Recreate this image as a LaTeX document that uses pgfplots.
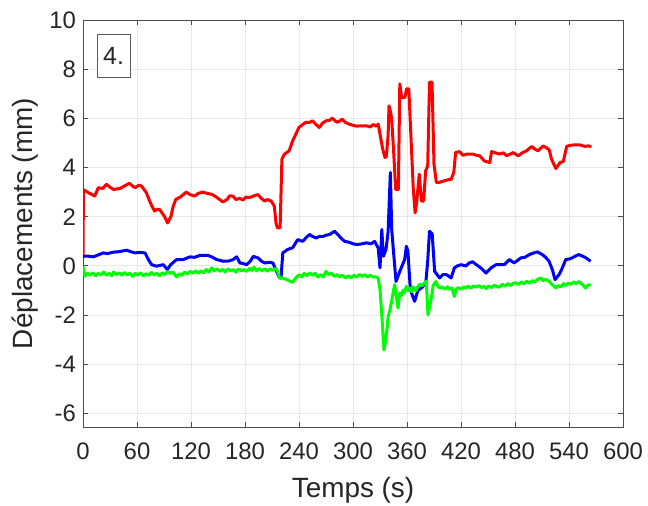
\documentclass[border=0pt]{standalone}
\usepackage{pgfplots}
\pgfplotsset{compat=1.18}
\usepackage{fontspec}
\setmainfont{Liberation Sans}
\definecolor{mred}{RGB}{255,0,0}
\definecolor{mblue}{RGB}{0,0,255}
\definecolor{mgreen}{RGB}{0,255,0}
\begin{document}
\begin{tikzpicture}
\begin{axis}[
 scale only axis, width=270bp, height=203.5bp,
 xmin=0, xmax=600, ymin=-6.55, ymax=10,
 xtick={0,60,...,600}, ytick={-6,-4,...,10},
 grid=major, grid style={gray!18, line width=0.5bp},
 axis line style={gray!60!black, line width=0.5bp},
 tick style={gray!60!black, line width=0.5bp},
 tick align=inside, major tick length=2.5bp,
 ticklabel style={font=\fontsize{12}{14}\selectfont, text=black!85},
 xticklabel style={yshift=-4.5bp},
 yticklabel style={xshift=0bp},
 /pgf/number format/assume math mode=true,
 xlabel={Temps (s)}, ylabel={Déplacements (mm)},
 label style={font=\fontsize{14}{16}\selectfont, text=black!85},
 xlabel style={at={(axis description cs:0.5,-0.1548)}, anchor=center},
 ylabel style={at={(axis description cs:-0.1074,0.5)}, anchor=center},
 every axis plot/.append style={line width=1.5bp, line join=round},
]
\addplot[mred] coordinates {(0,0.4) (0.5,3.1) (5,3.0) (13,2.84) (17,3.18) (22,3.15) (26,3.32) (30,3.2) (34,3.11) (41,3.15) (46,3.25) (51.5,3.36) (55,3.25) (58,3.18) (62,3.28) (65,3.25) (68,3.1) (70.4,2.98) (74,2.64) (77,2.4) (79.6,2.23) (82,2.3) (85,2.3) (88,2.15) (90.4,2.02) (94,1.75) (97.8,2.02) (100,2.4) (103,2.7) (108,2.8) (114.8,3.0) (119,2.9) (124,2.84) (128,2.95) (133,3.0) (138,2.95) (144,2.9) (150,2.75) (155.5,2.6) (160,2.7) (163,2.85) (166.6,2.84) (170,2.7) (174,2.75) (177.7,2.68) (181,2.8) (185,2.78) (190,2.85) (194.4,2.9) (198,2.75) (201.8,2.64) (205,2.7) (209,2.64) (212.6,2.43) (214.4,1.75) (216,1.55) (219,1.55) (221,4.34) (223.7,4.54) (229,4.68) (233,5.09) (237,5.4) (240,5.63) (244,5.75) (247.6,5.84) (252,5.84) (255,5.9) (259,5.75) (262.6,5.63) (266,5.8) (270,5.9) (274,5.92) (277,6.01) (280,5.9) (282.6,5.84) (285.6,5.9) (288,5.97) (291,5.85) (295.5,5.77) (300,5.72) (304,5.68) (308,5.7) (315,5.7) (319,5.65) (322.6,5.75) (326,5.68) (328,5.77) (330,5.36) (333,4.75) (335.5,4.41) (337,4.45) (339,5.3) (340,6.51) (341.5,6.3) (343,5.97) (345,4.75) (347.4,3.11) (350.4,3.11) (352,7.4) (354,6.85) (357.7,6.85) (359.5,7.2) (362,7.2) (365,4.75) (367,3.11) (369,2.16) (370.7,2.57) (373.6,3.73) (376,2.64) (378.5,2.64) (380.7,3.86) (383,4.07) (385,7.47) (387.8,7.47) (390,4.13) (392.6,3.39) (396,3.4) (400,3.45) (405,3.5) (409,3.52) (412,3.8) (414,4.61) (418.5,4.65) (422,4.5) (427,4.55) (433,4.55) (437,4.5) (440.7,4.48) (446,4.27) (452,4.2) (454,4.65) (458,4.6) (463,4.55) (467,4.6) (470.7,4.48) (475,4.55) (478,4.61) (483.6,4.48) (488,4.6) (492.8,4.68) (498.5,4.86) (502,4.75) (505.8,4.68) (511.3,4.88) (515,4.8) (518,4.72) (520.6,4.34) (525.4,3.96) (530,4.2) (533.7,4.25) (537.4,4.86) (541,4.9) (544.8,4.92) (552,4.92) (557.8,4.86) (561,4.88) (565,4.86)};
\addplot[mblue] coordinates {(0,0.39) (5,0.4) (11.5,0.37) (17,0.45) (22.6,0.53) (27,0.5) (33.7,0.56) (40,0.58) (48.5,0.64) (53,0.58) (57.8,0.53) (63,0.55) (68.9,0.53) (72.6,0.26) (76.3,0.05) (81.8,-0.01) (85,0.02) (89.3,0.05) (93.7,-0.15) (97.4,0.05) (104,0.26) (111.5,0.26) (118.9,0.37) (124,0.35) (130,0.43) (139,0.43) (144,0.35) (148.5,0.26) (155.9,0.19) (162,0.2) (167,0.26) (170.7,0.37) (174.4,0.12) (178,0.1) (181.8,0.05) (186,0.2) (189.2,0.39) (194.8,0.32) (198,0.2) (202,0.12) (207,0.15) (211,0.12) (215,-0.22) (218.5,-0.49) (220,-0.49) (222,0.53) (227.4,0.67) (233,0.74) (238.5,1.07) (244,1.0) (248,1.15) (251.6,1.28) (255,1.2) (259,1.14) (263,1.2) (266.6,1.2) (270,1.25) (274,1.28) (279.6,1.41) (285,1.2) (288.5,1.07) (290.7,1.0) (296,0.96) (300,0.9) (305,0.87) (310,0.9) (315,0.94) (320,0.9) (324,1.0) (328,0.73) (330,-0.08) (332,1.48) (333.7,0.39) (336.7,0.67) (339,1.4) (341.5,3.8) (343,1.5) (344.8,0.67) (347.8,-0.63) (352,-0.22) (357.4,0.26) (359.3,0.8) (361,0.6) (363.7,-0.97) (368.5,-1.44) (372,-1.0) (377.4,-0.85) (381,-0.63) (383,0.2) (385,1.41) (388,1.3) (390.7,-0.22) (396.3,-0.49) (400,-0.35) (403.7,-0.35) (409,-0.49) (412.6,-0.08) (416,0.0) (420,0.05) (425.6,0.0) (429,0.12) (433,0.17) (437,0.05) (442,-0.08) (447.8,-0.29) (453.3,-0.08) (459,0.05) (464,0.05) (468,0.05) (473.7,0.26) (479,0.12) (486.6,0.33) (491,0.35) (495.9,0.46) (500,0.52) (505,0.57) (510.4,0.46) (514,0.35) (517.8,0.19) (521.5,-0.15) (524.5,-0.56) (529,-0.35) (532.6,-0.08) (536.3,0.26) (540,0.28) (543.7,0.33) (547,0.4) (551,0.46) (556.7,0.37) (560,0.3) (564,0.19)};
\addplot[mgreen] coordinates {(0,-0.02) (2,-0.42) (5,-0.3) (8,-0.38) (11,-0.28) (14,-0.4) (17,-0.3) (20,-0.36) (23,-0.25) (26,-0.38) (29,-0.3) (32,-0.4) (34,-0.25) (37,-0.35) (40,-0.28) (43,-0.38) (46,-0.27) (49,-0.36) (52,-0.3) (55,-0.42) (58,-0.3) (61,-0.37) (64,-0.28) (67,-0.4) (70,-0.32) (73,-0.38) (76,-0.26) (79,-0.36) (82,-0.3) (85,-0.4) (88,-0.28) (91,-0.35) (94,-0.22) (97,-0.3) (100,-0.25) (104,-0.45) (107,-0.32) (110,-0.38) (113,-0.25) (116,-0.33) (119,-0.22) (122,-0.3) (125,-0.2) (128,-0.3) (131,-0.2) (134,-0.28) (137,-0.15) (140,-0.25) (143,-0.08) (146,-0.2) (149,-0.12) (152,-0.22) (155,-0.14) (158,-0.25) (161,-0.12) (164,-0.2) (167,-0.15) (170,-0.25) (173,-0.12) (176,-0.2) (179,-0.15) (182,-0.22) (185,-0.1) (188,-0.18) (190,-0.05) (193,-0.2) (196,-0.1) (199,-0.2) (202,-0.12) (205,-0.22) (208,-0.12) (211,-0.18) (214,-0.1) (216,-0.2) (218.5,-0.49) (222,-0.5) (226,-0.55) (229,-0.6) (233,-0.67) (236,-0.5) (240,-0.36) (243,-0.45) (246,-0.3) (249,-0.4) (252,-0.28) (255,-0.38) (258,-0.3) (261,-0.45) (264,-0.35) (267,-0.45) (270,-0.22) (273,-0.35) (276,-0.3) (279,-0.42) (282,-0.35) (285,-0.45) (288,-0.38) (292,-0.49) (295,-0.4) (298,-0.48) (301,-0.38) (304,-0.45) (307,-0.35) (310,-0.42) (313,-0.35) (316,-0.45) (319,-0.38) (322,-0.44) (326,-0.45) (328,-0.5) (330,-0.97) (332,-2.0) (333.7,-3.01) (334.4,-3.42) (335.5,-3.2) (336.7,-2.87) (338,-2.5) (339,-2.06) (341,-1.8) (342.6,-1.5) (344,-1.2) (346.3,-0.76) (348,-1.2) (350,-1.71) (352,-1.1) (354,-1.2) (355.5,-1.0) (357,-1.1) (359.3,-0.83) (361,-1.0) (363,-0.9) (365,-1.05) (366.7,-0.85) (368,-0.95) (370,-1.0) (372,-0.85) (374,-0.75) (377,-0.8) (379.6,-0.68) (381.5,-0.63) (383.3,-1.99) (385,-1.7) (386,-1.5) (388,-1.1) (389,-0.8) (392,-0.63) (394,-0.8) (396.3,-0.9) (399,-0.85) (402,-0.95) (405,-0.85) (407.4,-0.95) (410,-0.9) (412.6,-1.24) (414.4,-0.95) (417,-0.88) (420,-0.95) (423,-0.85) (425.6,-0.9) (428,-0.82) (431,-0.9) (434,-0.82) (436.7,-0.86) (440,-0.8) (443,-0.88) (446,-0.82) (447.8,-0.92) (451,-0.82) (454,-0.88) (457,-0.78) (460,-0.85) (462.6,-0.86) (466,-0.75) (469,-0.82) (472,-0.72) (475,-0.8) (478,-0.7) (481,-0.69) (484,-0.75) (487,-0.65) (490,-0.72) (493,-0.62) (496,-0.7) (499.6,-0.6) (502,-0.65) (505,-0.55) (508.9,-0.49) (511,-0.6) (514,-0.55) (518,-0.62) (521,-0.75) (525.4,-0.9) (528,-0.8) (531,-0.85) (534,-0.72) (536.3,-0.8) (539,-0.7) (542,-0.75) (545,-0.65) (548,-0.72) (551,-0.63) (553,-0.7) (556,-0.8) (558.5,-0.9) (561,-0.78) (564,-0.76)};
\node[draw=gray!70!black, fill=white, line width=0.6bp, font=\fontsize{12.5}{14}\selectfont, text=black!85, minimum width=16.5bp, minimum height=21.5bp, inner sep=0pt] at (axis cs:34,8.53) {4.};
\end{axis}
\pgfresetboundingbox
\path ([xshift=-41.5bp,yshift=-39bp]current axis.south west) rectangle ([xshift=12.5bp,yshift=10bp]current axis.north east);
\end{tikzpicture}
\end{document}
